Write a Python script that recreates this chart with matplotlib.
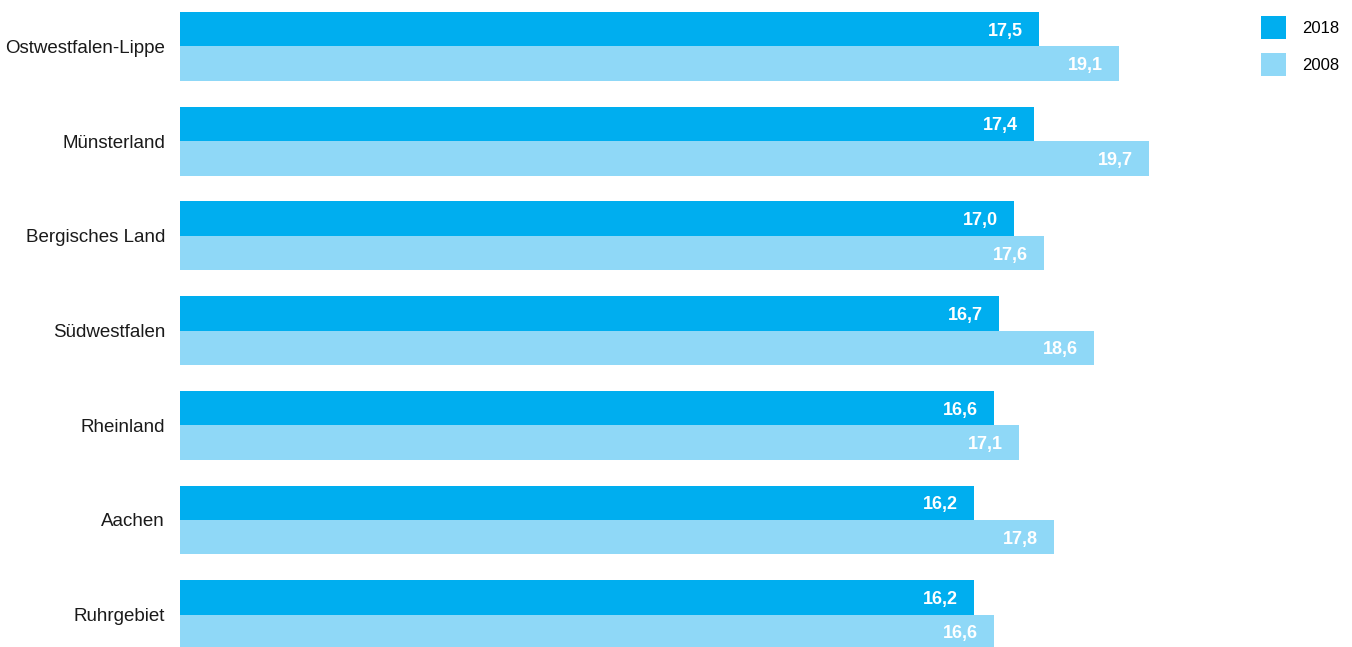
import matplotlib
matplotlib.use("Agg")
import matplotlib.pyplot as plt
from matplotlib.patches import Patch
import numpy as np

categories = ["Ostwestfalen-Lippe", "Münsterland", "Bergisches Land", "Südwestfalen",
              "Rheinland", "Aachen", "Ruhrgebiet"]
values_2018 = [17.5, 17.4, 17.0, 16.7, 16.6, 16.2, 16.2]
values_2008 = [19.1, 19.7, 17.6, 18.6, 17.1, 17.8, 16.6]
series_labels = ["2018", "2008"]
colors = ["#00AEEF", "#8FD8F7"]

plt.rcParams['font.family'] = ['Liberation Sans', 'DejaVu Sans']

W, H = 1352, 647
fig = plt.figure(figsize=(W / 100, H / 100), dpi=100)
ax = fig.add_axes([180 / W, 0, (1250 - 180) / W, 1])

y = np.arange(len(categories))
h = 0.364
ax.barh(y - h / 2, values_2018, height=h, color=colors[0], linewidth=0)
ax.barh(y + h / 2, values_2008, height=h, color=colors[1], linewidth=0)

dy = 2 / 94.7
for yi, v in zip(y, values_2018):
    ax.text(v - 0.32, yi - h / 2 + dy, f"{v:.1f}".replace(".", ","), ha="right", va="center",
            color="white", fontsize=13, fontweight="bold")
for yi, v in zip(y, values_2008):
    ax.text(v - 0.32, yi + h / 2 + dy, f"{v:.1f}".replace(".", ","), ha="right", va="center",
            color="white", fontsize=13, fontweight="bold")

ax.set_xlim(0.32, 21.72)
top = -h - 12 / 94.7
ax.set_ylim(top + H / 94.7, top)
ax.set_yticks(y)
ax.set_yticklabels(categories, fontsize=13.5, color="#1a1a1a")
ax.tick_params(axis="y", length=0, pad=10.8)
ax.set_xticks([])
for s in ax.spines.values():
    s.set_visible(False)

fs = 12
fspx = fs * 100 / 72
hpt = 23 * 0.72
hh = (hpt / fs - 0.245) / 0.65
handles = [Patch(facecolor=colors[0], edgecolor="none"), Patch(facecolor=colors[1], edgecolor="none")]
fig.legend(handles, series_labels, loc="upper left",
           bbox_to_anchor=((1261 - 0.4 * fspx) / W, 1 - (16 - 0.4 * fspx) / H),
           frameon=False, fontsize=fs, handlelength=25 / fspx, handleheight=hh,
           handletextpad=16 / fspx, labelspacing=14 / fspx, borderaxespad=0)

fig.savefig("out.png", dpi=100)
